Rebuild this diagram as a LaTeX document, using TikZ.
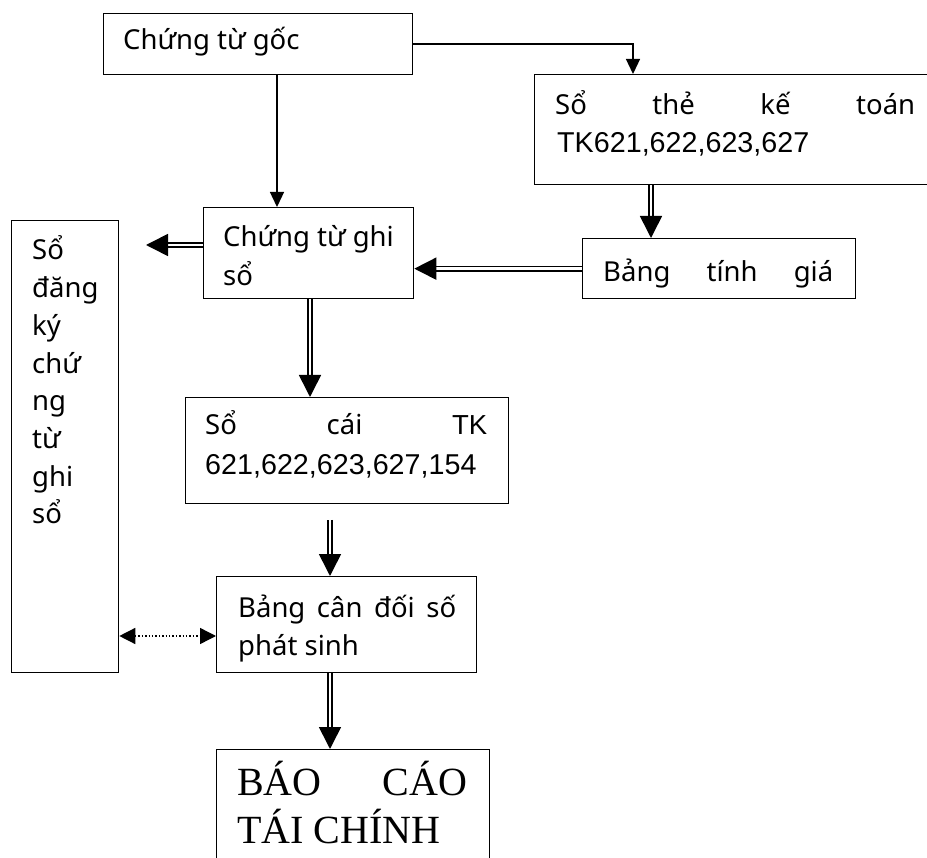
\documentclass[tikz,border=0pt]{standalone}
\usepackage{fontspec}
\setmainfont{Noto Sans}
\newfontfamily\arialf{Liberation Sans}
\newfontfamily\serf{Liberation Serif}
\usetikzlibrary{arrows.meta}
\begin{document}
\begin{tikzpicture}[x=1pt,y=-1pt,
  box/.style={draw, line width=1.3pt, inner sep=0pt, anchor=north west},
  txt/.style={anchor=base west, inner sep=0pt, font=\fontsize{27.5}{37.7}\selectfont},
  atxt/.style={anchor=base west, inner sep=0pt, font=\arialf\fontsize{28.7}{37.7}\selectfont},
  stxt/.style={anchor=base west, inner sep=0pt, font=\serf\fontsize{40}{48}\selectfont},
  sarrow/.style={line width=1.3pt, -{Triangle[length=15pt,width=14pt]}},
  darrow/.style={double, double distance=2.8pt, line width=1.6pt, -{Triangle[length=22pt,width=22pt]}},
  dotarrow/.style={line width=1.4pt, dash pattern=on 1.4pt off 2pt,
    {Triangle[length=16pt,width=16pt]}-{Triangle[length=16pt,width=16pt]}}
  ]
\useasboundingbox (0,0) rectangle (927,858);
% boxes
\node[box, minimum width=309pt, minimum height=61pt] (b1) at (103,13) {};
\node[box, minimum width=396pt, minimum height=110pt] (b2) at (534,74) {};
\node[box, minimum width=273pt, minimum height=60pt] (b4) at (582,238) {};
\node[box, minimum width=210pt, minimum height=91pt] (b3) at (203,207) {};
\node[box, minimum width=107pt, minimum height=452pt] (b5) at (11,220) {};
\node[box, minimum width=323pt, minimum height=106pt] (b6) at (185,397) {};
\node[box, minimum width=260pt, minimum height=96pt] (b7) at (216,576) {};
\node[box, minimum width=273pt, minimum height=130pt] (b8) at (216,749) {};
% texts
\node[txt] (t1) at (123,50) {Chứng từ gốc};
\node[txt] (t2a) at (555,115) {\makebox[360pt]{Sổ\hfill thẻ\hfill kế\hfill toán}};
\node[atxt] (t2b) at (557,153) {TK621,622,623,627};
\node[txt] (t4) at (603,282) {\makebox[230pt]{Bảng\hfill tính\hfill giá}};
\node[txt] (t3a) at (223,247) {Chứng từ ghi};
\node[txt] (t3b) at (223,286) {sổ};
\foreach \w [count=\i from 0] in {Sổ,đăng,ký,chứ,ng,từ,ghi,sổ}
  \node[txt] (t5\i) at (32,260+\i*37.7) {\w};
\node[txt] (t6a) at (205,435) {\makebox[282pt]{Sổ\hfill cái\hfill {\arialf TK}}};
\node[atxt] (t6b) at (205,475) {621,622,623,627,154};
\node[txt] (t7a) at (238,617) {\makebox[218pt]{Bảng\hfill cân\hfill đối\hfill số}};
\node[txt] (t7b) at (238,655) {phát sinh};
\node[stxt] (t8a) at (237,795) {\makebox[230pt]{BÁO\hfill CÁO}};
\node[stxt] (t8b) at (237,843) {TÁI CHÍNH};
% connector coordinates
\coordinate (c1) at (633,74);
\coordinate (c2) at (277,207);
\coordinate (c3) at (651,238);
\coordinate (c4) at (146,245);
\coordinate (c5) at (310,397);
\coordinate (c6) at (330,520);
\coordinate (c7) at (0,636);
% connectors
\draw[sarrow] (b1.east) -| (c1);
\draw[sarrow] (c2 |- b1.south) -- (c2);
\draw[darrow] (c3 |- b2.south) -- (c3);
\draw[darrow] (b4.west) -- (b3.east |- b4.west);
\draw[darrow] (b3.west |- c4) -- (c4);
\draw[darrow] (c5 |- b3.south) -- (c5);
\draw[darrow] (c6) -- (c6 |- b7.north);
\draw[darrow] (c6 |- b7.south) -- (c6 |- b8.north);
\draw[dotarrow] (b5.east |- c7) -- (b7.west |- c7);
\end{tikzpicture}
\end{document}
